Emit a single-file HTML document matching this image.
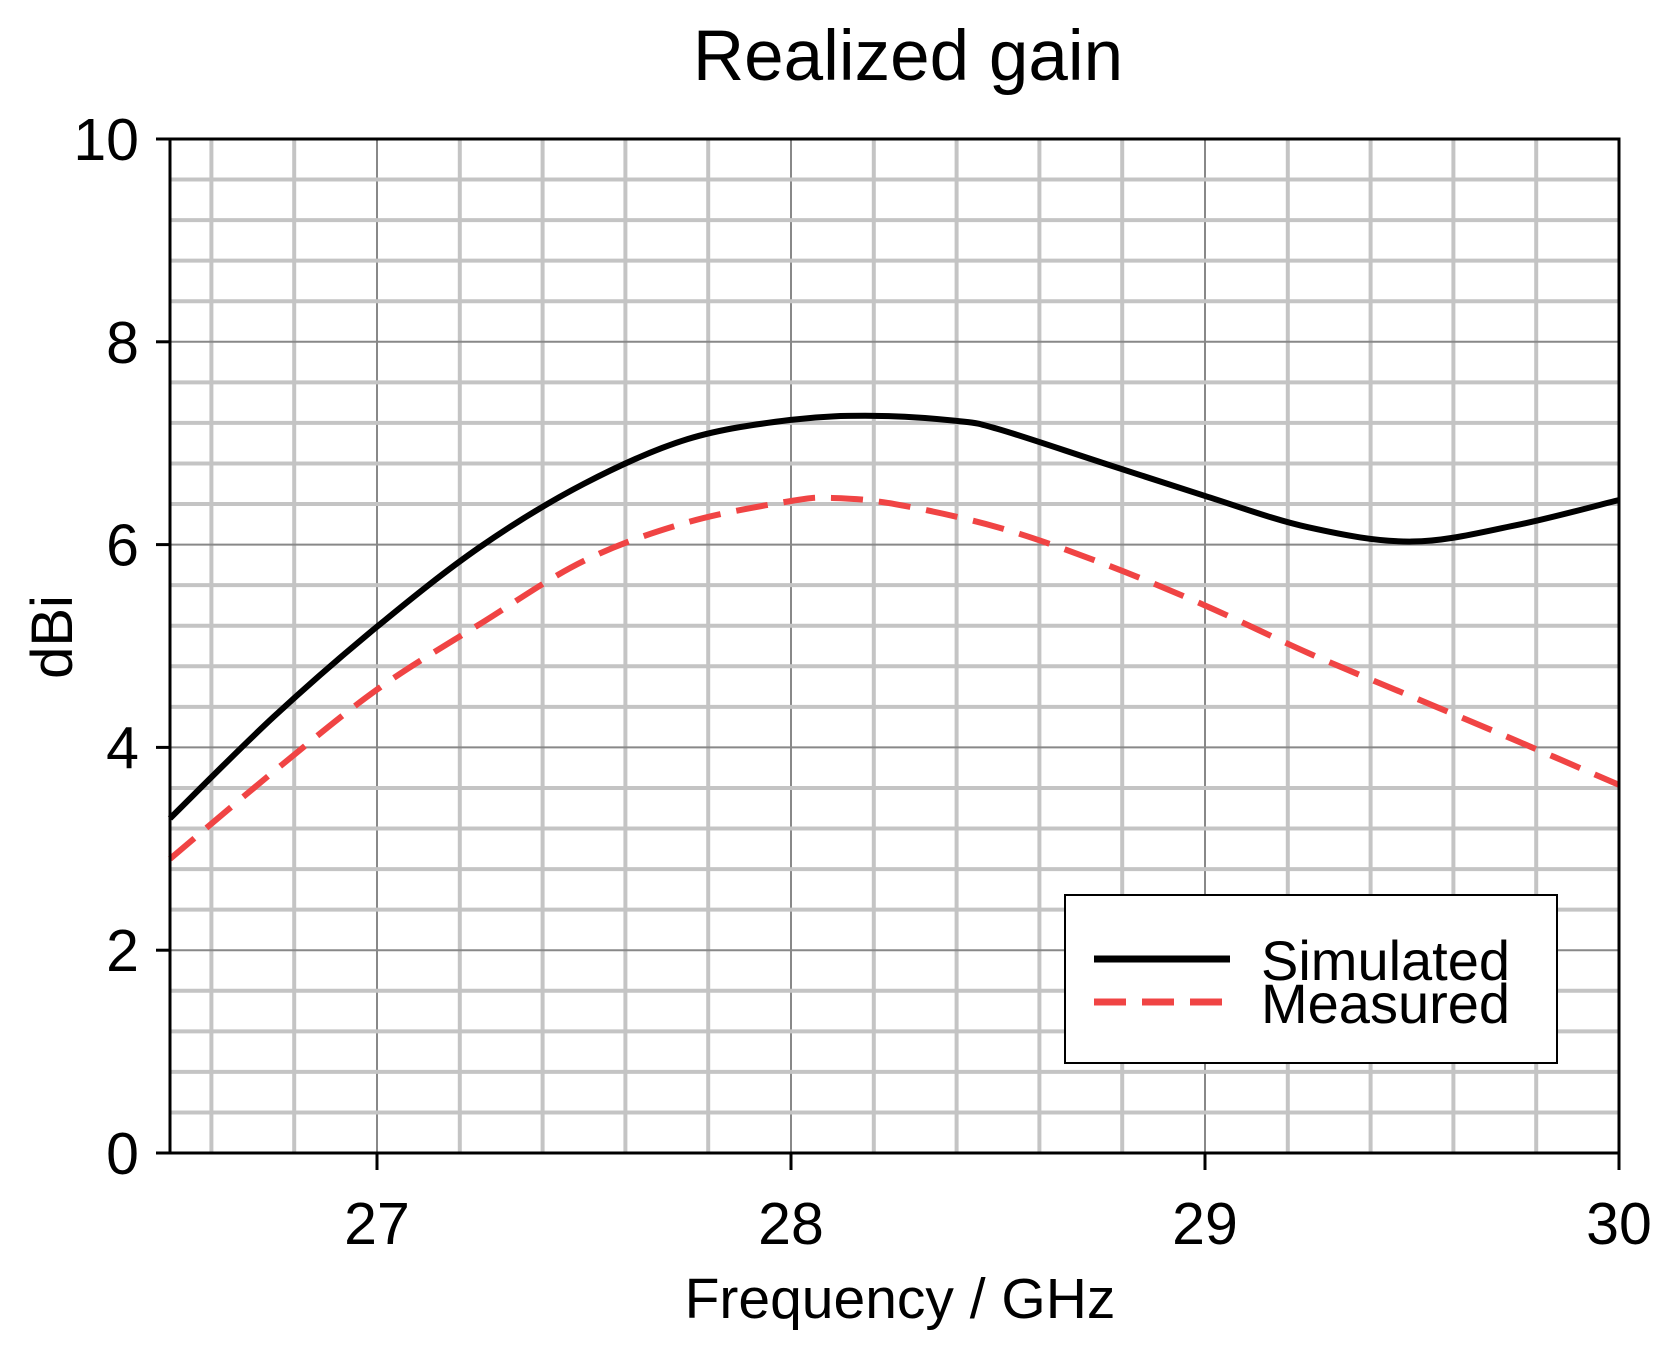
<!DOCTYPE html>
<html><head><meta charset="utf-8"><style>
html,body{margin:0;padding:0;background:#fff}
svg{display:block}
text{font-family:"Liberation Sans",Arial,sans-serif;fill:#000}
</style></head><body>
<svg id="chart" width="1665" height="1361" viewBox="0 0 1665 1361" xmlns="http://www.w3.org/2000/svg">
<rect width="1665" height="1361" fill="#fff"/>
<text x="908" y="80" font-size="71" text-anchor="middle">Realized gain</text>
<g id="grid"></g>
<g id="series"></g>
<g id="axes"></g>
<text x="900" y="1318" font-size="57" text-anchor="middle">Frequency / GHz</text>
<text transform="translate(72,637) rotate(-90)" font-size="58" text-anchor="middle">dBi</text>
<g>
<rect x="1065" y="895" width="492" height="168" fill="#fff" stroke="#000" stroke-width="2"/>
<line x1="1094" y1="959" x2="1230" y2="959" stroke="#000" stroke-width="7"/>
<text x="1261" y="980" font-size="56">Simulated</text>
<line x1="1094" y1="1002" x2="1230" y2="1002" stroke="#f04444" stroke-width="7" stroke-dasharray="32,16"/>
<text x="1261" y="1023" font-size="56">Measured</text>
</g>
</svg>
<script>
const freqs = [26.5,26.75,27,27.25,27.5,27.75,28,28.2,28.4,28.5,28.75,29,29.25,29.5,29.75,30];
const simulated = [3.3,4.3,5.19,5.98,6.6,7.04,7.23,7.27,7.22,7.14,6.81,6.48,6.17,6.03,6.19,6.44];
const measFreqs = [26.5,26.75,27,27.25,27.5,27.75,28,28.1,28.25,28.5,28.75,29,29.25,29.5,29.75,30];
const measured = [2.9,3.76,4.57,5.22,5.84,6.22,6.43,6.46,6.4,6.17,5.82,5.4,4.93,4.5,4.07,3.63];
const xTicks = [27,28,29,30];
const yTicks = [0,2,4,6,8,10];

const L=170,R=1619,T=139,B=1153,X0=26.5,X1=30,Y0=0,Y1=10;
const sx=v=>L+(v-X0)/(X1-X0)*(R-L);
const sy=v=>B-(v-Y0)/(Y1-Y0)*(B-T);
const NS="http://www.w3.org/2000/svg";
function mk(tag,attrs,parent){const e=document.createElementNS(NS,tag);for(const k in attrs)e.setAttribute(k,attrs[k]);parent.appendChild(e);return e;}
const grid=document.getElementById('grid'),axes=document.getElementById('axes'),series=document.getElementById('series');
for(let i=1;i<=17;i++){const f=Math.round((26.6+(i-1)*0.2)*10)/10; if(f>=X1)break;
 const major=Math.abs(f-Math.round(f))<1e-6;
 const l=mk('line',{x1:sx(f),x2:sx(f),y1:T,y2:B,stroke:major?'#888':'#c4c4c4','stroke-width':major?2:4},grid);
 
 }
for(let i=1;i<25;i++){const v=Math.round(i*0.4*10)/10; if(v>=Y1)break;
 const major=Math.abs(v/2-Math.round(v/2))<1e-6;
 const l=mk('line',{x1:L,x2:R,y1:sy(v),y2:sy(v),stroke:major?'#888':'#c4c4c4','stroke-width':major?2:4},grid);
 
 }
mk('rect',{x:L,y:T,width:R-L,height:B-T,fill:'none',stroke:'#000','stroke-width':3},axes);
xTicks.forEach(v=>{
 const t=mk('line',{x1:sx(v),x2:sx(v),y1:B,y2:B+17,stroke:'#000','stroke-width':3},axes);
 
 
 const tx=mk('text',{x:sx(v),y:1244,'font-size':59,'text-anchor':'middle'},axes);tx.textContent=v;
 
 });
yTicks.forEach(v=>{
 const t=mk('line',{x1:L-14,x2:L,y1:sy(v),y2:sy(v),stroke:'#000','stroke-width':3},axes);
 
 
 const tx=mk('text',{x:139,y:sy(v)+21,'font-size':59,'text-anchor':'end'},axes);tx.textContent=v;
 
 });
function smooth(xs,ys){const p=xs.map((x,i)=>[sx(x),sy(ys[i])]);let d='M'+p[0][0]+','+p[0][1];
 for(let i=0;i<p.length-1;i++){const a=p[Math.max(0,i-1)],b=p[i],c=p[i+1],e=p[Math.min(p.length-1,i+2)];
 d+=` C${b[0]+(c[0]-a[0])/6},${b[1]+(c[1]-a[1])/6} ${c[0]-(e[0]-b[0])/6},${c[1]-(e[1]-b[1])/6} ${c[0]},${c[1]}`;}return d;}
const m=mk('path',{d:smooth(measFreqs,measured),fill:'none',stroke:'#f04444','stroke-width':6,'stroke-dasharray':'32,16'},series);


const s=mk('path',{d:smooth(freqs,simulated),fill:'none',stroke:'#000','stroke-width':6},series);


</script>
</body></html>
